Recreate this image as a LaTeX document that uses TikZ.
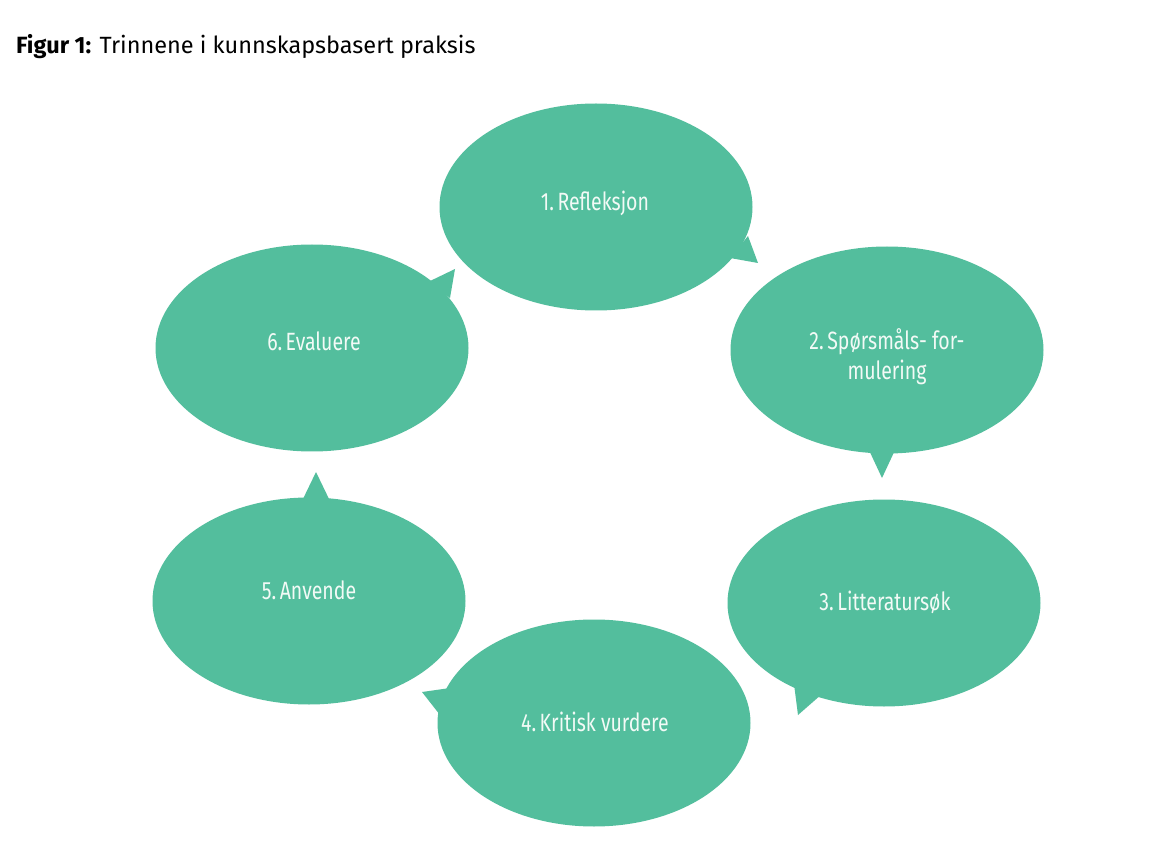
\documentclass[tikz,border=0pt]{standalone}
\usepackage{fontspec}
\setmainfont{Fira Sans}
\newfontfamily\labfont[FakeStretch=0.78]{Fira Sans}
\newcommand\labsetup{\labfont\fontsize{25}{30}\selectfont}
\newcommand\numgap{\hspace{3.5pt}}
\usetikzlibrary{shapes.geometric}
\definecolor{bubblegreen}{HTML}{53BE9D}
\definecolor{bubbletext}{HTML}{F2FAF6}
\tikzset{
  bubble/.style={ellipse, fill=bubblegreen, draw=none, inner sep=0pt,
    minimum width=313pt, minimum height=207pt},
  tail/.style={fill=bubblegreen, draw=none},
  lab/.style={text=bubbletext, font=\labsetup, align=center, inner sep=0pt}
}
\begin{document}
\begin{tikzpicture}[x=1pt,y=-1pt]
\useasboundingbox (0,0) rectangle (1171,842);
\fill[white] (0,0) rectangle (1171,842);
\node[anchor=base west, inner sep=0pt, font=\fontsize{23.5}{28}\selectfont] (title) at (16,54)
  {\textbf{Figur 1:} Trinnene i kunnskapsbasert praksis};
% bubbles
\node[bubble] (b1) at (596,207) {};
\node[bubble] (b2) at (887,350) {};
\node[bubble] (b3) at (884,603) {};
\node[bubble] (b4) at (594,723) {};
\node[bubble] (b5) at (309,601) {};
\node[bubble] (b6) at (312,348) {};
% tails
\fill[tail] (730,258) -- (748,236) -- (758,263) -- cycle;
\fill[tail] (868,448) -- (896,448) -- (882,478) -- cycle;
\fill[tail] (794,684) -- (822,694) -- (798,715) -- cycle;
\fill[tail] (450,688) -- (440,715) -- (422,692) -- cycle;
\fill[tail] (302,501) -- (330,501) -- (316,472) -- cycle;
\fill[tail] (428,282) -- (450,298) -- (455,269) -- cycle;
% labels
\node[lab] (t1) at (595,203) {1.\numgap Refleksjon};
\node[lab] (t2) at (887,357) {2.\numgap Spørsmåls- for-\\mulering};
\node[lab] (t3) at (885,602) {3.\numgap Litteratursøk};
\node[lab] (t4) at (595,722) {4.\numgap Kritisk vurdere};
\node[lab] (t5) at (309,590) {5.\numgap Anvende};
\node[lab] (t6) at (314,341) {6.\numgap Evaluere};
\end{tikzpicture}
\end{document}
